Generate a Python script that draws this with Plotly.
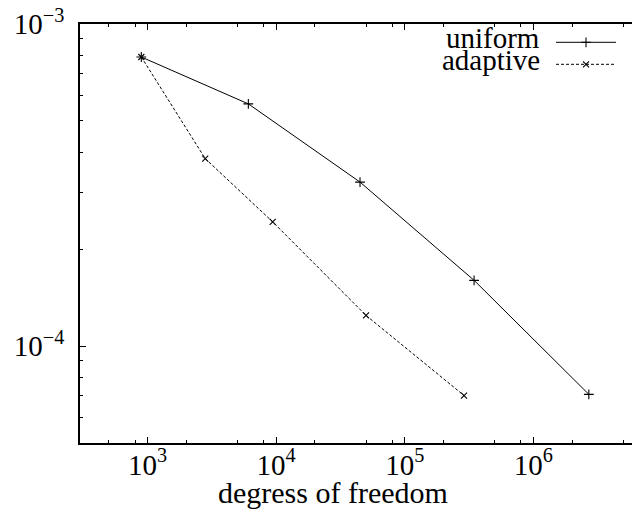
import plotly.graph_objects as go

# data
uniform_dof = [895, 6080, 44900, 346000, 2700000]
uniform_err = [7.9e-4, 5.65e-4, 3.23e-4, 1.60e-4, 7.08e-5]
adaptive_dof = [895, 2810, 9400, 50000, 289000]
adaptive_err = [7.9e-4, 3.82e-4, 2.43e-4, 1.245e-4, 7.02e-5]

series_names = ["uniform", "adaptive"]
x_title = "degress of freedom"
x_tick_vals = [1e3, 1e4, 1e5, 1e6]
x_tick_text = ["10<sup>3</sup>", "10<sup>4</sup>", "10<sup>5</sup>", "10<sup>6</sup>"]
y_tick_vals = [1e-4, 1e-3]
y_tick_text = ["10<sup>\u22124</sup>", "10<sup>\u22123</sup>"]
x_minor = [m * 10**e for e in range(2, 7) for m in (2, 5, 8)]
y_minor = [m * 10**e for e in (-5, -4) for m in range(2, 10)]

FONT = "Liberation Serif"
W, H = 632, 512
L, R, T, B = 80, 0, 24, 69

fig = go.Figure()
fig.add_trace(go.Scatter(
    x=uniform_dof, y=uniform_err, mode="lines+markers", name=series_names[0],
    line=dict(color="black", width=1),
    marker=dict(symbol="cross-thin", size=7, line=dict(color="black", width=1.1), color="black"),
    showlegend=False))
fig.add_trace(go.Scatter(
    x=adaptive_dof, y=adaptive_err, mode="lines+markers", name=series_names[1],
    line=dict(color="black", width=1, dash="3px,2px"),
    marker=dict(symbol="x-thin", size=6, line=dict(color="black", width=1.1), color="black"),
    showlegend=False))

PW, PH = W - L - R, H - T - B
def px_x(xw):  # pixel x -> paper
    return (xw - L) / PW
def px_y(yw):  # pixel y -> paper
    return (H - B - yw) / PH

# custom legend (text left, sample right) on an overlay unit axis
leg_rows = [42.3, 64.3]
styles = [dict(dash="solid", sym="cross-thin", size=7), dict(dash="3px,2px", sym="x-thin", size=6)]
for name, yw, st in zip(series_names, leg_rows, styles):
    yy = px_y(yw)
    fig.add_trace(go.Scatter(
        x=[px_x(556), px_x(616)], y=[yy, yy], mode="lines", xaxis="x2", yaxis="y2",
        line=dict(color="black", width=1, dash=st["dash"]), showlegend=False, hoverinfo="skip"))
    fig.add_trace(go.Scatter(
        x=[px_x(586)], y=[yy], mode="markers", xaxis="x2", yaxis="y2",
        marker=dict(symbol=st["sym"], size=st["size"], line=dict(color="black", width=1.1), color="black"),
        showlegend=False, hoverinfo="skip"))
    fig.add_annotation(text=name, x=px_x(542), y=px_y(yw - 4), xref="paper", yref="paper",
                       xanchor="right", yanchor="middle", showarrow=False,
                       font=dict(family=FONT, size=29, color="black"))

fig.add_annotation(text=x_title, x=px_x(333), y=px_y(492),
                   xref="paper", yref="paper", xanchor="center", yanchor="middle",
                   showarrow=False, font=dict(family=FONT, size=30, color="black"))

axis_common = dict(
    showgrid=False, zeroline=False, showline=True, linecolor="black", linewidth=1.5,
    ticks="inside", ticklen=6, tickwidth=1, tickcolor="black", automargin=False,
    ticklabeloverflow="allow",
    tickfont=dict(family=FONT, size=29, color="black"),
)
hidden_axis = dict(range=[0, 1], visible=False, fixedrange=True, showline=False,
                   showgrid=False, zeroline=False, ticks="", showticklabels=False)
fig.update_layout(
    width=W, height=H, margin=dict(l=L, r=R, t=T, b=B),
    paper_bgcolor="white", plot_bgcolor="white",
    xaxis=dict(type="log", range=[2.475, 6.767], tickmode="array",
               tickvals=x_tick_vals, ticktext=x_tick_text, mirror="ticks",
               minor=dict(tickmode="array", tickvals=x_minor, ticks="inside", ticklen=3,
                          tickcolor="black", tickwidth=1, showgrid=False),
               ticklabelstandoff=-5,
               **axis_common),
    yaxis=dict(type="log", range=[-4.30103, -2.9999], tickmode="array",
               tickvals=y_tick_vals, ticktext=y_tick_text, mirror=False,
               minor=dict(tickmode="array", tickvals=y_minor, ticks="inside", ticklen=3,
                          tickcolor="black", tickwidth=1, showgrid=False),
               ticklabelstandoff=8,
               **axis_common),
    xaxis2=dict(overlaying="x", **hidden_axis),
    yaxis2=dict(overlaying="y", **hidden_axis),
    showlegend=False,
)
fig.write_html("out.html", config={"displayModeBar": False},
               post_script="document.body.style.margin='0';document.body.style.overflow='hidden';")
